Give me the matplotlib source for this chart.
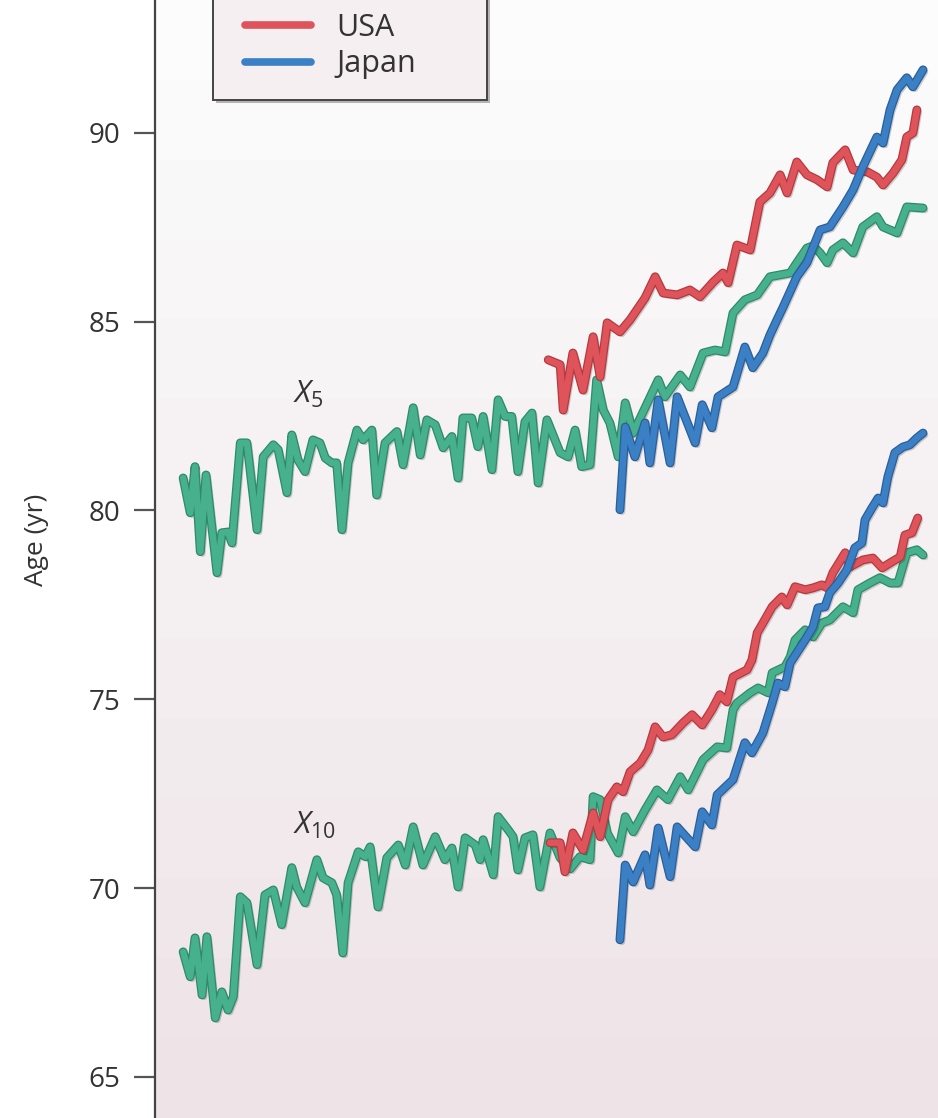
import numpy as np
import matplotlib
matplotlib.use('Agg')
import matplotlib.pyplot as plt
import matplotlib.patheffects as pe
from matplotlib.patches import Rectangle

plt.rcParams['font.family'] = ['Open Sans', 'DejaVu Sans']
plt.rcParams['mathtext.fontset'] = 'custom'
plt.rcParams['mathtext.it'] = 'Open Sans:italic'
plt.rcParams['mathtext.rm'] = 'Open Sans'

# Sweden (green), X5
swe_x5_year = [1840.0, 1841.6, 1842.7, 1843.9, 1845.2, 1847.7, 1848.8, 1850.2, 1851.1, 1853.0,
               1854.5, 1856.8, 1858.2, 1860.5, 1861.6, 1863.6, 1864.7, 1866.1, 1867.7, 1869.5,
               1871.1, 1872.3, 1873.8, 1874.9, 1876.1, 1877.5, 1879.5, 1880.9, 1882.9, 1884.0,
               1885.9, 1888.6, 1890.0, 1892.3, 1893.9, 1895.4, 1897.3, 1899.1, 1901.1, 1902.5,
               1903.6, 1905.6, 1907.0, 1908.2, 1910.2, 1911.6, 1913.2, 1914.7, 1916.1, 1917.7,
               1919.3, 1920.7, 1922.7, 1925.7, 1927.5, 1929.1, 1930.6, 1932.5, 1934.0, 1935.5,
               1937.0, 1938.9, 1940.5, 1942.3, 1945.0, 1948.0, 1949.5, 1953.0, 1955.2, 1958.2,
               1960.9, 1963.2, 1965.0, 1967.7, 1970.5, 1973.4, 1978.0, 1979.5, 1981.8, 1983.2,
               1984.8, 1986.4, 1987.7, 1990.0, 1992.3, 1994.5, 1997.7, 1999.1, 2002.3, 2004.5,
               2008.2]
swe_x5_age = [80.86, 79.94, 81.16, 78.91, 80.94, 78.35, 79.41, 79.43, 79.14, 81.79,
              81.79, 79.49, 81.42, 81.74, 81.61, 80.47, 82.00, 81.34, 81.03, 81.87,
              81.79, 81.39, 81.26, 81.26, 79.49, 81.26, 82.13, 81.87, 82.13, 80.41,
              81.79, 82.09, 81.21, 82.72, 81.47, 82.40, 82.27, 81.66, 81.96, 80.86,
              82.45, 82.45, 81.69, 82.49, 81.08, 82.93, 82.49, 82.49, 81.03, 82.35,
              82.58, 80.73, 82.40, 81.53, 81.42, 82.13, 81.16, 81.21, 83.46, 82.66,
              82.32, 81.42, 82.85, 82.05, 82.72, 83.46, 83.01, 83.59, 83.27, 84.17,
              84.25, 84.20, 85.23, 85.58, 85.71, 86.19, 86.29, 86.56, 86.95, 87.01,
              86.82, 86.56, 86.90, 87.09, 86.82, 87.51, 87.78, 87.51, 87.35, 88.04,
              88.01]

# USA (red), X5
usa_x5_year = [1923.0, 1925.7, 1926.4, 1928.6, 1930.9, 1933.2, 1934.8, 1936.4, 1939.3, 1941.6,
               1945.0, 1947.3, 1949.1, 1952.3, 1955.2, 1957.5, 1960.5, 1962.7, 1963.9, 1965.9,
               1968.9, 1971.1, 1973.4, 1975.7, 1977.3, 1979.5, 1981.8, 1984.1, 1986.4, 1987.7,
               1990.5, 1992.3, 1995.5, 1997.7, 1999.1, 2001.4, 2003.4, 2004.5, 2005.9, 2006.8]
usa_x5_age = [83.99, 83.86, 82.66, 84.17, 83.19, 84.60, 83.54, 84.97, 84.73, 85.05,
              85.63, 86.19, 85.76, 85.71, 85.84, 85.66, 86.05, 86.29, 86.03, 87.03,
              86.90, 88.17, 88.41, 88.89, 88.41, 89.23, 88.89, 88.76, 88.57, 89.21,
              89.55, 89.02, 88.97, 88.83, 88.62, 88.94, 89.29, 89.89, 90.00, 90.61]

# Japan (blue), X5
jpn_x5_year = [1939.3, 1940.5, 1942.7, 1945.0, 1946.1, 1948.0, 1950.7, 1952.3, 1956.4, 1958.0,
               1960.2, 1961.6, 1965.0, 1967.7, 1969.5, 1971.8, 1973.4, 1975.0, 1976.4, 1979.5,
               1981.8, 1984.8, 1987.0, 1990.0, 1992.3, 1994.5, 1997.7, 1999.1, 2000.7, 2002.3,
               2004.5, 2005.9, 2008.2]
jpn_x5_age = [80.02, 82.21, 81.42, 82.32, 81.26, 82.93, 81.26, 83.01, 81.79, 82.80,
              82.19, 83.01, 83.27, 84.33, 83.78, 84.17, 84.65, 85.05, 85.39, 86.19,
              86.56, 87.43, 87.51, 88.04, 88.49, 89.10, 89.89, 89.73, 90.61, 91.14,
              91.46, 91.22, 91.67]

# Sweden (green), X10
swe_x10_year = [1840.0, 1841.6, 1842.7, 1844.3, 1845.4, 1847.3, 1848.8, 1850.2, 1851.4, 1853.0,
                1854.5, 1856.8, 1858.6, 1860.5, 1862.4, 1864.7, 1865.8, 1867.7, 1870.4, 1871.8,
                1873.8, 1874.9, 1876.3, 1877.5, 1879.8, 1881.4, 1882.5, 1884.3, 1886.3, 1888.9,
                1890.5, 1892.3, 1894.5, 1897.3, 1899.5, 1901.1, 1902.5, 1904.1, 1906.4, 1907.5,
                1908.2, 1910.5, 1911.6, 1913.9, 1915.0, 1916.1, 1917.7, 1919.5, 1921.1, 1923.4,
                1925.7, 1928.0, 1930.2, 1932.5, 1933.2, 1934.8, 1936.4, 1938.9, 1940.5, 1942.3,
                1945.0, 1947.7, 1950.2, 1953.0, 1954.8, 1958.2, 1961.4, 1963.6, 1965.0, 1965.9,
                1968.9, 1970.7, 1973.0, 1973.9, 1976.8, 1978.0, 1979.1, 1981.4, 1983.2, 1985.2,
                1987.0, 1988.6, 1990.0, 1992.3, 1993.4, 1996.1, 1998.4, 2000.7, 2002.5, 2004.5,
                2006.8, 2008.2]
swe_x10_age = [68.31, 67.65, 68.68, 67.17, 68.71, 66.56, 67.25, 66.77, 67.12, 69.77,
               69.61, 67.97, 69.82, 69.95, 69.03, 70.54, 70.03, 69.61, 70.75, 70.27,
               70.14, 69.82, 68.28, 70.14, 70.96, 70.83, 71.09, 69.50, 70.80, 71.14,
               70.61, 71.62, 70.61, 71.36, 70.75, 71.06, 70.03, 71.33, 71.14, 70.75,
               71.28, 70.35, 71.89, 71.54, 71.36, 70.48, 71.33, 71.41, 70.03, 71.46,
               70.80, 70.51, 70.83, 70.75, 72.42, 72.34, 71.46, 70.93, 71.89, 71.49,
               72.07, 72.60, 72.34, 72.95, 72.60, 73.40, 73.74, 73.71, 74.72, 74.90,
               75.17, 75.30, 75.17, 75.70, 75.86, 76.12, 76.57, 76.84, 76.65, 77.02,
               77.10, 77.29, 77.45, 77.29, 77.90, 78.08, 78.22, 78.08, 78.08, 78.88,
               78.96, 78.82]

# USA (red), X10
usa_x10_year = [1923.4, 1925.7, 1926.8, 1928.6, 1930.9, 1933.2, 1934.8, 1936.6, 1938.6, 1940.0,
                1941.6, 1943.9, 1945.7, 1947.3, 1949.1, 1951.1, 1953.6, 1955.7, 1958.0, 1960.2,
                1962.0, 1963.6, 1965.0, 1968.2, 1969.3, 1970.5, 1971.8, 1973.9, 1976.1, 1977.3,
                1979.1, 1981.4, 1983.2, 1985.2, 1986.4, 1987.7, 1990.5, 1991.6, 1994.5, 1996.8,
                1998.9, 2001.1, 2003.0, 2004.1, 2005.7, 2007.0]
usa_x10_age = [71.20, 71.20, 70.43, 71.46, 71.01, 71.99, 71.36, 72.34, 72.68, 72.55,
               73.08, 73.31, 73.66, 74.27, 74.00, 74.06, 74.37, 74.59, 74.32, 74.72,
               75.12, 74.93, 75.59, 75.78, 76.04, 76.76, 77.02, 77.45, 77.71, 77.50,
               77.98, 77.90, 77.95, 78.03, 77.95, 78.35, 78.88, 78.51, 78.69, 78.74,
               78.48, 78.64, 78.77, 79.35, 79.41, 79.80]

# Japan (blue), X10
jpn_x10_year = [1939.3, 1940.5, 1942.3, 1945.0, 1946.1, 1948.0, 1950.7, 1952.3, 1956.4, 1958.0,
                1960.2, 1961.4, 1965.0, 1967.7, 1969.3, 1971.8, 1973.9, 1975.2, 1976.8, 1978.0,
                1979.5, 1981.4, 1983.2, 1984.3, 1985.9, 1987.0, 1988.9, 1990.9, 1992.7, 1994.3,
                1995.0, 1996.6, 1998.0, 1999.1, 2000.2, 2001.8, 2003.6, 2005.2, 2006.8, 2008.2]
jpn_x10_age = [68.63, 70.61, 70.16, 70.88, 70.08, 71.59, 70.30, 71.62, 71.09, 72.02,
               71.67, 72.47, 72.87, 73.85, 73.58, 74.11, 74.90, 75.43, 75.33, 75.96,
               76.23, 76.57, 76.92, 77.42, 77.45, 77.82, 78.08, 78.43, 79.01, 79.14,
               79.75, 80.07, 80.33, 80.20, 80.89, 81.53, 81.68, 81.74, 81.92, 82.05]

y_ticks = [65, 70, 75, 80, 85, 90]

GREEN = '#47b08c'
RED = '#df535b'
BLUE = '#3b7fc4'
DARK = {GREEN: '#2f8a69', RED: '#b53a40', BLUE: '#2a5f99'}

W, H = 938, 1118
fig = plt.figure(figsize=(W / 100, H / 100), dpi=100)
ax = fig.add_axes([155 / W, 0.0, 1 - 155 / W, 1.0])

x_lo, x_hi = 1833.6, 2011.6
y_lo, y_hi = 63.91, 93.52

# soft banded background gradient
top = np.array([252, 252, 252]) / 255
bot = np.array([238, 228, 232]) / 255
steps = np.linspace(0, 1, 14)[:, None]
grad = (top + (bot - top) * steps)[:, None, :]
ax.imshow(grad, extent=[x_lo, x_hi, y_lo, y_hi], aspect='auto', zorder=0,
          interpolation='nearest', origin='upper')


def draw(xs, ys, color, label=None):
    effects = [pe.SimpleLineShadow(offset=(1.5, -1.5), shadow_color='#000000', alpha=0.18),
               pe.Stroke(linewidth=6.4, foreground=DARK[color]),
               pe.Normal()]
    ax.plot(xs, ys, color=color, lw=4.6, solid_joinstyle='round', solid_capstyle='round',
            path_effects=effects, label=label, zorder=3)


draw(swe_x5_year, swe_x5_age, GREEN)
draw(usa_x5_year, usa_x5_age, RED, 'USA')
draw(jpn_x5_year, jpn_x5_age, BLUE, 'Japan')
draw(swe_x10_year, swe_x10_age, GREEN)
draw(usa_x10_year, usa_x10_age, RED)
draw(jpn_x10_year, jpn_x10_age, BLUE)

ax.text(1865.0, 83.06, r'$X_{5}$', fontsize=22, color='#333333', va='center', ha='left')
ax.text(1865.0, 71.67, r'$X_{10}$', fontsize=22, color='#333333', va='center', ha='left')

ax.set_xlim(x_lo, x_hi)
ax.set_ylim(y_lo, y_hi)
ax.set_yticks(y_ticks)
ax.set_xticks([])
for s in ['top', 'right', 'bottom']:
    ax.spines[s].set_visible(False)
ax.spines['left'].set_color('#444444')
ax.spines['left'].set_linewidth(1.6)
ax.tick_params(axis='y', direction='out', length=15, width=1.6, color='#555555',
               labelsize=20, labelcolor='#333333', pad=10)

ax.set_ylabel('Age (yr)', fontsize=19, color='#333333')
ax.yaxis.set_label_coords(-0.135, 0.517)

# legend box: its top runs past the upper edge of the picture
box_l, box_r, box_b = 213, 487, 100
shadow = Rectangle(((box_l + 3) / W, 1 - (box_b + 3) / H), (box_r - box_l) / W, 0.2,
                   transform=fig.transFigure, facecolor='#000000', alpha=0.28,
                   edgecolor='none', clip_on=False, zorder=4)
box = Rectangle((box_l / W, 1 - box_b / H), (box_r - box_l) / W, 0.2,
                transform=fig.transFigure, facecolor='#f6eff2', edgecolor='#444444',
                linewidth=1.4, clip_on=False, zorder=4.1)
ax.add_patch(shadow)
ax.add_patch(box)

leg = ax.legend(loc='center left', bbox_to_anchor=(245 / W, 1 - 46 / H),
                bbox_transform=fig.transFigure, frameon=False, fontsize=22,
                handlelength=2.15, handletextpad=0.85, borderpad=0.0, labelspacing=0.22,
                borderaxespad=0.0)
leg.set_zorder(5)
for line in leg.get_lines():
    line.set_linewidth(5.5)
    line.set_path_effects([])
for t in leg.get_texts():
    t.set_color('#333333')

fig.savefig('out.png', dpi=100)
